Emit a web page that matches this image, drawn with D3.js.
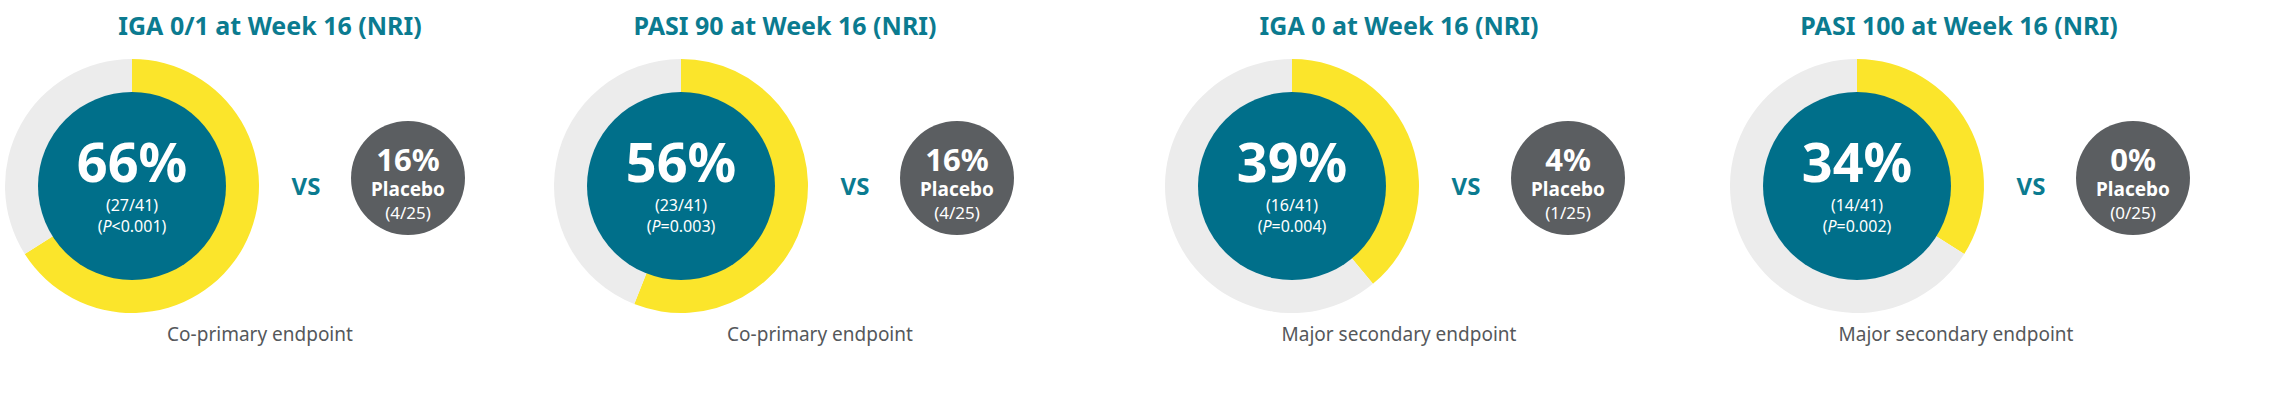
<!DOCTYPE html>
<html>
<head>
<meta charset="utf-8">
<script src="https://cdn.jsdelivr.net/npm/d3@7"></script>
<style>
  body { margin: 0; background: #fff; }
  text { font-family: "Noto Sans", Lato, sans-serif; }
</style>
</head>
<body>
<svg id="chart" width="2272" height="408"></svg>
<script>
const titles = ['IGA 0/1 at Week 16 (NRI)', 'PASI 90 at Week 16 (NRI)', 'IGA 0 at Week 16 (NRI)', 'PASI 100 at Week 16 (NRI)'];
const activePct = [66, 56, 39, 34];
const activeN = ['27/41', '23/41', '16/41', '14/41'];
const pValues = ['<0.001', '=0.003', '=0.004', '=0.002'];
const placeboPct = [16, 16, 4, 0];
const placeboN = ['4/25', '4/25', '1/25', '0/25'];
const endpoints = ['Co-primary endpoint', 'Co-primary endpoint', 'Major secondary endpoint', 'Major secondary endpoint'];

// layout
const ringX = [132, 681, 1292, 1857];
const titleX = [270, 785, 1399, 1959];
const footX = [260, 820, 1399, 1956];
const cy = 186;

const svg = d3.select('#chart');
const pie = d3.pie().sort(null).value(d => d);
const ring = d3.arc().innerRadius(0).outerRadius(127);

activePct.forEach((pct, i) => {
    const g = svg.append('g');

    g.append('text')
        .attr('x', titleX[i]).attr('y', 35)
        .attr('text-anchor', 'middle')
        .style('font-size', '25px').style('font-weight', 700)
        .style('fill', '#0b7b90')
        .text(titles[i]);

    const rg = g.append('g').attr('transform', `translate(${ringX[i]},${cy})`);
    rg.selectAll('path')
        .data(pie([pct, 100 - pct]))
        .join('path')
        .attr('d', ring)
        .attr('fill', (d, j) => j === 0 ? '#fbe52b' : '#ececec');
    rg.append('circle').attr('r', 94).attr('fill', '#006f8a');

    rg.append('text').attr('y', -4).attr('text-anchor', 'middle')
        .style('font-size', '54px').style('font-weight', 700).style('fill', '#fff')
        .text(pct + '%');
    rg.append('text').attr('y', 25).attr('text-anchor', 'middle')
        .style('font-size', '16px').style('fill', '#fff')
        .text('(' + activeN[i] + ')');
    const pt = rg.append('text').attr('y', 46).attr('text-anchor', 'middle')
        .style('font-size', '16px').style('fill', '#fff');
    pt.append('tspan').text('(');
    pt.append('tspan').style('font-style', 'italic').text('P');
    pt.append('tspan').text(pValues[i] + ')');

    g.append('text')
        .attr('x', ringX[i] + 174).attr('y', cy + 9)
        .attr('text-anchor', 'middle')
        .style('font-size', '24px').style('font-weight', 700).style('fill', '#0b7b90')
        .text('VS');

    const pg = g.append('g').attr('transform', `translate(${ringX[i] + 276},${cy - 8})`);
    pg.append('circle').attr('r', 57).attr('fill', '#5b5e61');
    pg.append('text').attr('y', -7).attr('text-anchor', 'middle')
        .style('font-size', '31px').style('font-weight', 700).style('fill', '#fff')
        .text(placeboPct[i] + '%');
    pg.append('text').attr('y', 18).attr('text-anchor', 'middle')
        .style('font-size', '19px').style('font-weight', 700).style('fill', '#fff')
        .text('Placebo');
    pg.append('text').attr('y', 41).attr('text-anchor', 'middle')
        .style('font-size', '17px').style('fill', '#fff')
        .text('(' + placeboN[i] + ')');

    g.append('text')
        .attr('x', footX[i]).attr('y', 341)
        .attr('text-anchor', 'middle')
        .style('font-size', '19px').style('fill', '#55585b')
        .text(endpoints[i]);
});
</script>
</body>
</html>
